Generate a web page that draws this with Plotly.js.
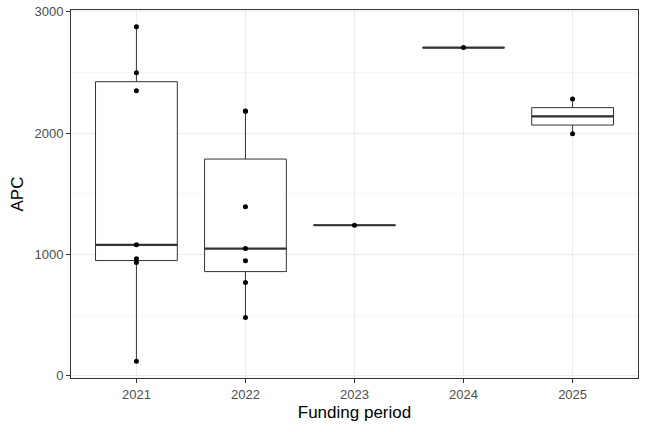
<!DOCTYPE html>
<html>
<head>
<meta charset="utf-8">
<script src="https://cdn.plot.ly/plotly-3.0.1.min.js"></script>
<style>
  html, body { margin: 0; padding: 0; background: #ffffff; }
  #apc-graph { width: 648px; height: 432px; }
</style>
</head>
<body>
<div id="apc-graph"></div>
<script>
var periods = ['2021', '2022', '2023', '2024', '2025'];
var apc2021 = [2877, 2498, 2350, 1080, 965, 935, 120];
var apc2022 = [2180, 2182, 1393, 1049, 948, 770, 481];
var apc2023 = [1241];
var apc2024 = [2705];
var apc2025 = [2282, 1995];
var apcByPeriod = [apc2021, apc2022, apc2023, apc2024, apc2025];
var yTicks = [0, 1000, 2000, 3000];

var lineCol = '#333333';
var boxWidth = 0.75;

// quantile like R's default (type 7), same as ggplot's stat_boxplot
function quantile(sorted, p)
{
    var h = (sorted.length - 1) * p;
    var lo = Math.floor(h);
    var hi = Math.ceil(h);
    return sorted[lo] + (h - lo) * (sorted[hi] - sorted[lo]);
}

function boxStats(arr)
{
    var s = arr.slice().sort(function(a, b){ return a - b; });
    var q1 = quantile(s, 0.25), med = quantile(s, 0.5), q3 = quantile(s, 0.75);
    var iqr = q3 - q1;
    var inside = s.filter(function(v){ return v >= q1 - 1.5 * iqr && v <= q3 + 1.5 * iqr; });
    return {q1: q1, med: med, q3: q3, lo: inside[0], hi: inside[inside.length - 1]};
}

var traces = [];
var medX = [], medY = [], ptX = [], ptY = [];
var allY = [];
for (var iii = 0; iii < periods.length; iii++)
{
    var vals = apcByPeriod[iii];
    var pos = iii + 1;
    var st = boxStats(vals);
    traces.push({
        type: 'box',
        x: [pos],
        q1: [st.q1],
        median: [st.med],
        q3: [st.q3],
        lowerfence: [st.lo],
        upperfence: [st.hi],
        width: boxWidth,
        boxpoints: false,
        fillcolor: '#ffffff',
        line: {color: lineCol, width: 1},
        whiskerwidth: 0,
        showlegend: false
    });
    medX.push(pos - boxWidth / 2, pos + boxWidth / 2, null);
    medY.push(st.med, st.med, null);
    for (var jjj = 0; jjj < vals.length; jjj++)
    {
        ptX.push(pos);
        ptY.push(vals[jjj]);
        allY.push(vals[jjj]);
    }
}
traces.push({
    type: 'scatter', mode: 'lines', x: medX, y: medY,
    line: {color: lineCol, width: 2.2}, showlegend: false
});
traces.push({
    type: 'scatter', mode: 'markers', x: ptX, y: ptY,
    marker: {color: '#000000', size: 5}, showlegend: false
});

var yMin = Math.min.apply(null, allY);
var yMax = Math.max.apply(null, allY);
var pad = (yMax - yMin) * 0.05;

var layout = {
    width: 648,
    height: 432,
    paper_bgcolor: '#ffffff',
    plot_bgcolor: '#ffffff',
    font: {family: '"Liberation Sans", Arial, sans-serif', color: '#4D4D4D', size: 13},
    margin: {l: 71, r: 10, t: 10, b: 54},
    xaxis: {
        range: [0.4, periods.length + 0.6],
        tickmode: 'array',
        tickvals: periods.map(function(p, i){ return i + 1; }),
        ticktext: periods,
        showgrid: true, gridcolor: '#EBEBEB', gridwidth: 1,
        zeroline: false,
        showline: true, mirror: true, linecolor: lineCol, linewidth: 1,
        ticks: 'outside', ticklen: 4, tickwidth: 1, tickcolor: lineCol,
        tickfont: {color: '#4D4D4D', size: 13},
        title: {text: 'Funding period', font: {color: '#000000', size: 17}, standoff: 5}
    },
    yaxis: {
        range: [yMin - pad, yMax + pad],
        tickmode: 'array',
        tickvals: yTicks,
        ticktext: yTicks.map(String),
        showgrid: true, gridcolor: '#EBEBEB', gridwidth: 1,
        minor: {dtick: 500, showgrid: true, gridcolor: '#F2F2F2', gridwidth: 0.6, ticks: ''},
        zeroline: false,
        showline: true, mirror: true, linecolor: lineCol, linewidth: 1,
        ticks: 'outside', ticklen: 4, tickwidth: 1, tickcolor: lineCol,
        tickfont: {color: '#4D4D4D', size: 13},
        title: {text: 'APC', font: {color: '#000000', size: 17}, standoff: 6}
    },
    boxmode: 'overlay'
};

Plotly.newPlot('apc-graph', traces, layout, {displayModeBar: false, staticPlot: true});
</script>
</body>
</html>
